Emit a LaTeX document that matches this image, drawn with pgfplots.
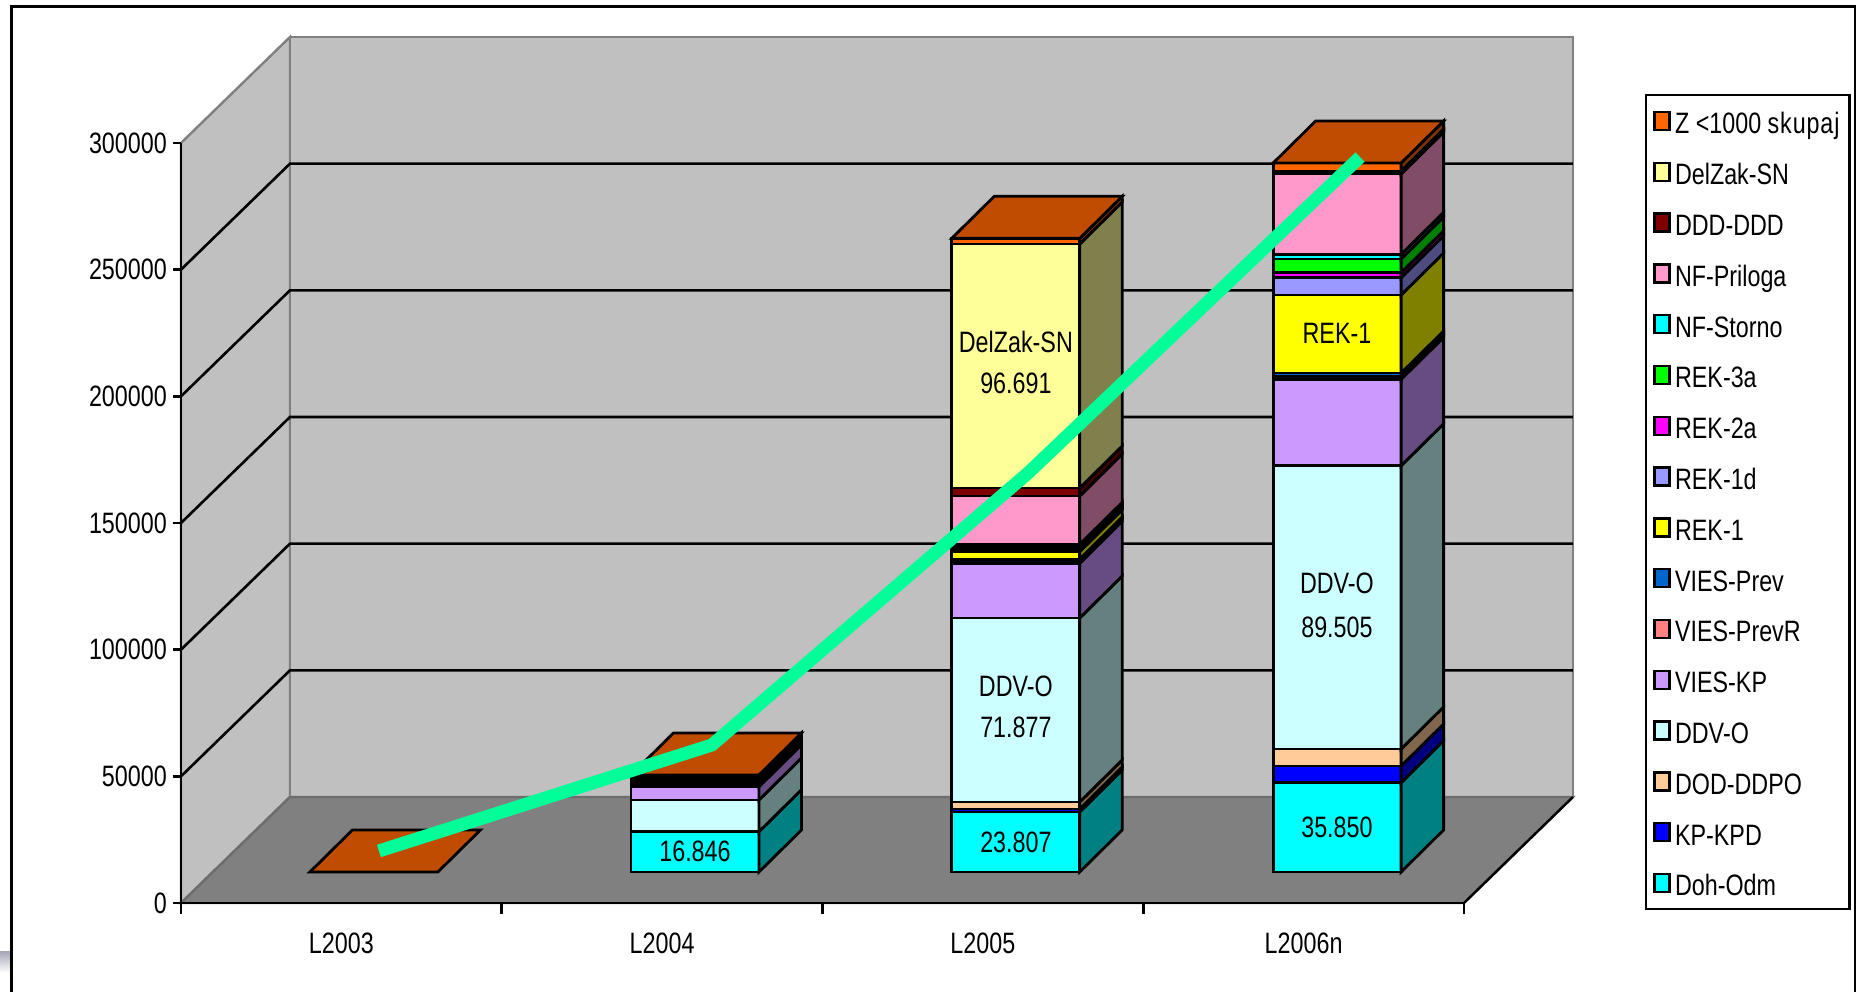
\documentclass[border=0pt]{standalone}
\usepackage{fontspec}
\setmainfont[FakeStretch=0.79]{Liberation Sans}
\usepackage{pgfplots}
\pgfplotsset{compat=1.18}

\newcommand{\lbl}{\fontsize{29.5pt}{34pt}\selectfont}

\definecolor{cDoh}{HTML}{00FFFF}
\definecolor{cKP}{HTML}{0000FF}
\definecolor{cDOD}{HTML}{FFCC99}
\definecolor{cDDV}{HTML}{CCFFFF}
\definecolor{cVKP}{HTML}{CC99FF}
\definecolor{cVPR}{HTML}{FF8080}
\definecolor{cVPV}{HTML}{0066CC}
\definecolor{cREKa}{HTML}{FFFF00}
\definecolor{cREKd}{HTML}{9999FF}
\definecolor{cREKb}{HTML}{FF00FF}
\definecolor{cREKc}{HTML}{00FF00}
\definecolor{cNFS}{HTML}{00FFFF}
\definecolor{cNFP}{HTML}{FF99CC}
\definecolor{cDDD}{HTML}{800000}
\definecolor{cDel}{HTML}{FFFF99}
\definecolor{cZ}{HTML}{FF6600}
\definecolor{wall}{HTML}{C0C0C0}
\definecolor{wedge}{HTML}{808080}
\definecolor{floorc}{HTML}{808080}
\definecolor{trend}{HTML}{00FF99}

% one stacked piece: bar left edge, lower and upper cumulative value, colour
\newcommand{\seg}[4]{%
  \pgfmathsetmacro\xa{#1}\pgfmathsetmacro\xb{#1+0.399}\pgfmathsetmacro\xc{#1+0.5315}%
  \edef\ya{\the\numexpr#2+12240\relax}\edef\yb{\the\numexpr#3+12240\relax}%
  \edef\yc{\the\numexpr#2+28820\relax}\edef\yd{\the\numexpr#3+28820\relax}%
  \edef\temp{%
    \noexpand\addplot[barface,fill=#4] coordinates {(\xa,\ya)(\xb,\ya)(\xb,\yb)(\xa,\yb)} --cycle;
    \noexpand\addplot[barface,fill=#4!50!black] coordinates {(\xb,\ya)(\xc,\yc)(\xc,\yd)(\xb,\yb)} --cycle;
  }\temp}
% top of a stack
\newcommand{\topf}[2]{%
  \pgfmathsetmacro\xa{#1}\pgfmathsetmacro\xb{#1+0.399}\pgfmathsetmacro\xc{#1+0.5315}\pgfmathsetmacro\xd{#1+0.1325}%
  \edef\yb{\the\numexpr#2+12240\relax}\edef\yd{\the\numexpr#2+28820\relax}%
  \edef\temp{%
    \noexpand\addplot[barface,fill=cZ!75!black] coordinates {(\xa,\yb)(\xb,\yb)(\xc,\yd)(\xd,\yd)} --cycle;
  }\temp}

\begin{document}
\begin{tikzpicture}
\path[use as bounding box] (-181pt,-89pt) rectangle (1675pt,903pt);
\fill[white] (-181pt,-89pt) rectangle (1675pt,903pt);
\shade[top color=black!10!blue!12!gray!60!white,bottom color=white] (-181pt,-49pt) rectangle (-171pt,-70pt);
\draw[black,line width=3pt] (-169.5pt,-89pt) -- (-169.5pt,896.5pt) -- (1674pt,896.5pt) -- (1674pt,-89pt);

\begin{axis}[
  scale only axis,
  width=1283pt,
  height=760pt,
  xmin=0,xmax=4,
  ymin=0,ymax=300000,
  clip=false,
  axis on top,
  axis x line*=bottom,
  axis y line*=left,
  axis line style={black,line width=2.6pt,-},
  tick align=outside,
  tick style={black,line width=2.6pt},
  xtick={0,1,2,3,4},
  x tick label as interval,
  xticklabels={L2003,L2004,L2005,L2006n},
  xtick style={/pgfplots/major tick length=11pt},
  ytick={0,50000,100000,150000,200000,250000,300000},
  major tick length=8pt,
  scaled y ticks=false,
  /pgf/number format/.cd,fixed,set thousands separator={},assume math mode=true,/pgfplots/.cd,
  tick label style={font=\lbl},
  yticklabel style={inner xsep=6pt},
  xticklabel style={yshift=-18.5pt},
  barface/.style={draw=black,line width=2.8pt,line join=miter,forget plot},
  legend image code/.code={\draw[#1,line width=2.4pt,draw=black] (0pt,-9pt) rectangle (15pt,9pt);},
  legend style={
    at={(1.1411,1.0645)},anchor=north west,
    draw=black,line width=2.4pt,fill=white,
    inner xsep=7pt,inner ysep=0.5pt,
    row sep=0pt,column sep=1.5pt,
    font=\lbl,
    nodes={text height=28.35pt,text depth=2.65pt,inner ysep=9.9pt,inner xsep=3pt,anchor=west},
  },
  legend cell align=left,
]
% walls and floor
\addplot[fill=wall,draw=wedge,line width=2.4pt,forget plot] coordinates {(0,300000)(0.3398,341838)(0.3398,41838)(0,0)} --cycle;
\addplot[fill=wall,draw=wedge,line width=2.4pt,forget plot] coordinates {(0.3398,341838)(4.3398,341838)(4.3398,41838)(0.3398,41838)} --cycle;
\addplot[fill=floorc,draw=wedge!85!black,line width=2.4pt,forget plot] coordinates {(0,0)(0.3398,41838)(4.3398,41838)(4,0)} --cycle;
\addplot[black,line width=2.4pt,forget plot] coordinates {(4,0)(4.3398,41838)};
% gridlines
\addplot[black,line width=2.6pt,forget plot] coordinates {(0,50000)(0.3398,91838)(4.3398,91838)};
\addplot[black,line width=2.6pt,forget plot] coordinates {(0,100000)(0.3398,141838)(4.3398,141838)};
\addplot[black,line width=2.6pt,forget plot] coordinates {(0,150000)(0.3398,191838)(4.3398,191838)};
\addplot[black,line width=2.6pt,forget plot] coordinates {(0,200000)(0.3398,241838)(4.3398,241838)};
\addplot[black,line width=2.6pt,forget plot] coordinates {(0,250000)(0.3398,291838)(4.3398,291838)};

% L2003
\topf{0.402}{0}
% L2004
\seg{1.403}{0}{15900}{cDoh}
\seg{1.403}{15900}{28420}{cDDV}
\seg{1.403}{28420}{33670}{cVKP}
\seg{1.403}{33670}{34500}{cVPR}
\seg{1.403}{34500}{35400}{cREKa}
\seg{1.403}{35400}{36300}{cREKd}
\seg{1.403}{36300}{37200}{cREKc}
\seg{1.403}{37200}{38290}{cNFP}
\topf{1.403}{38290}
% L2005
\seg{2.403}{0}{23680}{cDoh}
\seg{2.403}{23680}{24870}{cKP}
\seg{2.403}{24870}{27630}{cDOD}
\seg{2.403}{27630}{100250}{cDDV}
\seg{2.403}{100250}{121840}{cVKP}
\seg{2.403}{121840}{122750}{cVPR}
\seg{2.403}{122750}{123540}{cVPV}
\seg{2.403}{123540}{126420}{cREKa}
\seg{2.403}{126420}{127090}{cREKd}
\seg{2.403}{127090}{127880}{cREKb}
\seg{2.403}{127880}{128670}{cREKc}
\seg{2.403}{128670}{129340}{cNFS}
\seg{2.403}{129340}{148400}{cNFP}
\seg{2.403}{148400}{151560}{cDDD}
\seg{2.403}{151560}{247870}{cDel}
\seg{2.403}{247870}{250120}{cZ}
\topf{2.403}{250120}
% L2006n
\seg{3.405}{0}{35250}{cDoh}
\seg{3.405}{35250}{41840}{cKP}
\seg{3.405}{41840}{48550}{cDOD}
\seg{3.405}{48550}{160350}{cDDV}
\seg{3.405}{160350}{194470}{cVKP}
\seg{3.405}{194470}{195700}{cVPR}
\seg{3.405}{195700}{196950}{cVPV}
\seg{3.405}{196950}{227740}{cREKa}
\seg{3.405}{227740}{234570}{cREKd}
\seg{3.405}{234570}{236540}{cREKb}
\seg{3.405}{236540}{241950}{cREKc}
\seg{3.405}{241950}{243810}{cNFS}
\seg{3.405}{243810}{275500}{cNFP}
\seg{3.405}{275500}{276100}{cDDD}
\seg{3.405}{276100}{276700}{cDel}
\seg{3.405}{276700}{279840}{cZ}
\topf{3.405}{279840}

% total line
\addplot[trend,line width=13pt,line join=miter,forget plot] coordinates {(0.617,20530)(1.655,62360)(2.641,169720)(3.676,294450)};

% data labels
\node[font=\lbl] at (axis cs:1.6025,20524) {16.846};
\node[font=\lbl] at (axis cs:2.603,24077) {23.807};
\node[font=\lbl] at (axis cs:2.603,85650) {DDV-O};
\node[font=\lbl] at (axis cs:2.603,69470) {71.877};
\node[font=\lbl] at (axis cs:2.603,221430) {DelZak-SN};
\node[font=\lbl] at (axis cs:2.603,205240) {96.691};
\node[font=\lbl] at (axis cs:3.604,29997) {35.850};
\node[font=\lbl] at (axis cs:3.604,126300) {DDV-O};
\node[font=\lbl] at (axis cs:3.604,108940) {89.505};
\node[font=\lbl] at (axis cs:3.604,224980) {REK-1};

% legend
\addlegendimage{fill=cZ}\addlegendentry{Z <1000 {\addfontfeature{LetterSpace=3}skupaj}}
\addlegendimage{fill=cDel}\addlegendentry{DelZak-SN}
\addlegendimage{fill=cDDD}\addlegendentry{DDD-DDD}
\addlegendimage{fill=cNFP}\addlegendentry{NF-Priloga}
\addlegendimage{fill=cNFS}\addlegendentry{NF-Storno}
\addlegendimage{fill=cREKc}\addlegendentry{REK-3a}
\addlegendimage{fill=cREKb}\addlegendentry{REK-2a}
\addlegendimage{fill=cREKd}\addlegendentry{REK-1d}
\addlegendimage{fill=cREKa}\addlegendentry{REK-1}
\addlegendimage{fill=cVPV}\addlegendentry{VIES-Prev}
\addlegendimage{fill=cVPR}\addlegendentry{VIES-PrevR}
\addlegendimage{fill=cVKP}\addlegendentry{VIES-KP}
\addlegendimage{fill=cDDV}\addlegendentry{DDV-O}
\addlegendimage{fill=cDOD}\addlegendentry{DOD-DDPO}
\addlegendimage{fill=cKP}\addlegendentry{KP-KPD}
\addlegendimage{fill=cDoh}\addlegendentry{Doh-Odm}
\end{axis}
\end{tikzpicture}
\end{document}
